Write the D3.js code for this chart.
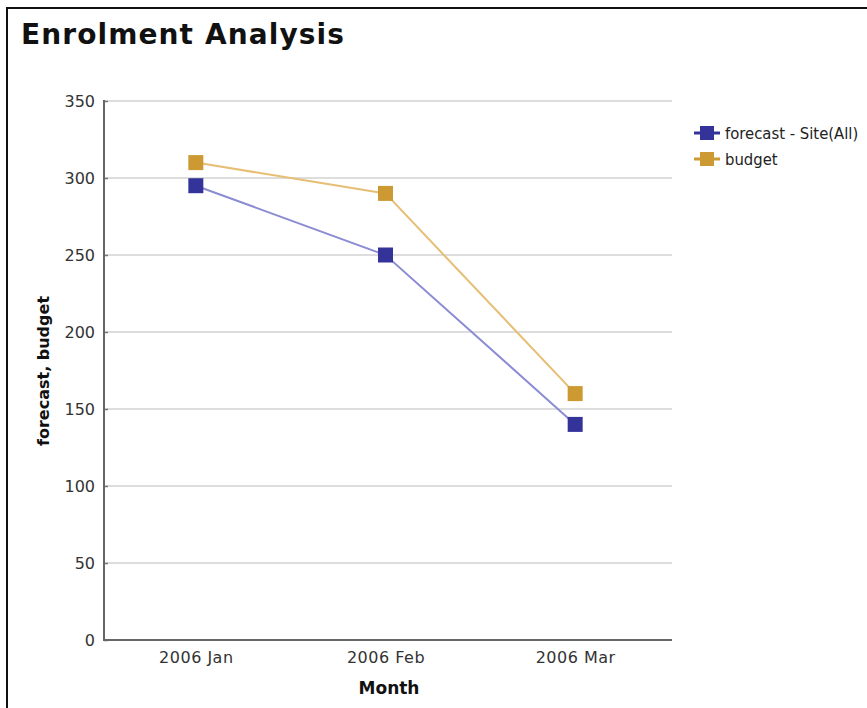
<!DOCTYPE html>
<html>
<head>
<meta charset="utf-8">
<script src="https://cdn.jsdelivr.net/npm/d3@7"></script>
<style>
  html, body { margin: 0; padding: 0; background: #fff; }
  svg { display: block; }
</style>
</head>
<body>
<svg id="chart" width="867" height="708"></svg>
<script>
const months = ["2006 Jan", "2006 Feb", "2006 Mar"];
const forecast = [295, 250, 140];
const budget = [310, 290, 160];
const yTicks = [0, 50, 100, 150, 200, 250, 300, 350];
const seriesNames = ["forecast - Site(All)", "budget"];
const markerColors = ["#333399", "#cc9933"];
const lineColors = ["#8c8cd4", "#e6be74"];

const svg = d3.select("#chart");
const plot = { left: 104, right: 672, top: 101, bottom: 640 };

// frame
svg.append("rect").attr("x", 7).attr("y", 8).attr("width", 900).attr("height", 750)
  .attr("fill", "none").attr("stroke", "#111").attr("stroke-width", 2);

// title
svg.append("text").attr("x", 21).attr("y", 44)
  .attr("font-family", "DejaVu Sans, Verdana, sans-serif").attr("font-weight", "bold")
  .attr("font-size", 28).attr("letter-spacing", 1.1).attr("fill", "#111").text("Enrolment Analysis");

const x = d3.scalePoint().domain(months).range([101, 670]).padding(0.5);
const y = d3.scaleLinear().domain([0, 350]).range([plot.bottom, plot.top]);

// grid
svg.append("g").selectAll("line").data(yTicks.filter(d => d > 0)).join("line")
  .attr("x1", plot.left).attr("x2", plot.right)
  .attr("y1", d => y(d)).attr("y2", d => y(d))
  .attr("stroke", "#dddddd").attr("stroke-width", 2);

// y axis
const yAxis = svg.append("g").attr("transform", `translate(${plot.left},0)`)
  .call(d3.axisLeft(y).tickValues(yTicks).tickSize(-4).tickPadding(9));
yAxis.select(".domain").remove();
yAxis.selectAll(".tick line").attr("stroke", "#777").attr("stroke-width", 1.5);
yAxis.selectAll("text").attr("font-family", "DejaVu Sans, sans-serif").attr("font-size", 16).attr("fill", "#333");

// x axis
const xAxis = svg.append("g").attr("transform", `translate(0,${plot.bottom})`)
  .call(d3.axisBottom(x).tickSize(0).tickPadding(12));
xAxis.select(".domain").remove();
xAxis.selectAll("text").attr("font-family", "DejaVu Sans, sans-serif").attr("font-size", 16)
  .attr("letter-spacing", 0.5).attr("fill", "#333");

// axis lines
svg.append("line").attr("x1", plot.left).attr("x2", plot.left)
  .attr("y1", plot.top - 1).attr("y2", plot.bottom + 1)
  .attr("stroke", "#666").attr("stroke-width", 2);
svg.append("line").attr("x1", plot.left - 1).attr("x2", plot.right)
  .attr("y1", plot.bottom).attr("y2", plot.bottom)
  .attr("stroke", "#666").attr("stroke-width", 2);

// axis titles
svg.append("text").attr("x", 389).attr("y", 694)
  .attr("text-anchor", "middle").attr("font-family", "DejaVu Sans, sans-serif")
  .attr("font-weight", "bold").attr("font-size", 17).attr("fill", "#111").text("Month");
svg.append("text").attr("transform", "translate(49,371) rotate(-90)")
  .attr("text-anchor", "middle").attr("font-family", "DejaVu Sans, sans-serif")
  .attr("font-weight", "bold").attr("font-size", 16).attr("fill", "#111").text("forecast, budget");

// series
const series = [forecast, budget];
const line = d3.line().x((d, i) => x(months[i])).y(d => y(d));
series.forEach((vals, si) => {
  svg.append("path").datum(vals).attr("d", line)
    .attr("fill", "none").attr("stroke", lineColors[si]).attr("stroke-width", 2);
});
series.forEach((vals, si) => {
  svg.append("g").selectAll("rect").data(vals).join("rect")
    .attr("x", (d, i) => x(months[i]) - 7.5).attr("y", d => y(d) - 7.5)
    .attr("width", 15).attr("height", 15)
    .attr("fill", markerColors[si]);
});

// legend
const legend = svg.append("g").attr("transform", "translate(694,133)");
seriesNames.forEach((name, i) => {
  const g = legend.append("g").attr("transform", `translate(0,${i * 26})`);
  g.append("line").attr("x1", 0).attr("x2", 26).attr("y1", 0).attr("y2", 0)
    .attr("stroke", markerColors[i]).attr("stroke-width", 3);
  g.append("rect").attr("x", 6).attr("y", -7).attr("width", 14).attr("height", 14)
    .attr("fill", markerColors[i]);
  g.append("text").attr("x", 31).attr("y", 6)
    .attr("font-family", "DejaVu Sans Condensed, DejaVu Sans, sans-serif")
    .attr("font-size", 16.5).attr("fill", "#222").text(name);
});
</script>
</body>
</html>
